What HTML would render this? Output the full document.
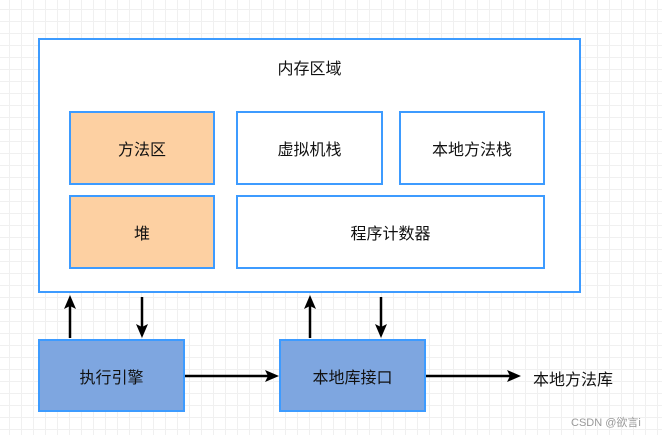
<!DOCTYPE html>
<html><head><meta charset="utf-8"><style>
body{margin:0;width:662px;height:435px;overflow:hidden;background:#fff;
background-image:linear-gradient(#f0f0f0 1px,transparent 1px),linear-gradient(90deg,#f0f0f0 1px,transparent 1px);
background-size:12px 12px;background-position:9px 9px;font-family:"Liberation Sans","Noto Sans CJK SC",sans-serif;}
.b{position:absolute;box-sizing:border-box;border:2px solid #3d9bff;display:flex;align-items:center;justify-content:center;font-size:16px;color:#111;}
.w{background:#fff}.o{background:#fdd0a2}.bl{background:#7ea6e0}
</style></head><body>
<div class="b w" style="left:38px;top:38px;width:543px;height:255px;align-items:flex-start;padding-top:15px">内存区域</div>
<div class="b o" style="left:69px;top:111px;width:146px;height:74px">方法区</div>
<div class="b w" style="left:236px;top:111px;width:147px;height:74px">虚拟机栈</div>
<div class="b w" style="left:399px;top:111px;width:146px;height:74px">本地方法栈</div>
<div class="b o" style="left:69px;top:195px;width:146px;height:74px">堆</div>
<div class="b w" style="left:236px;top:195px;width:309px;height:74px">程序计数器</div>
<div class="b bl" style="left:38px;top:339px;width:147px;height:73px">执行引擎</div>
<div class="b bl" style="left:279px;top:339px;width:147px;height:73px">本地库接口</div>
<div style="position:absolute;left:533px;top:366px;font-size:16px;color:#111">本地方法库</div>
<div style="position:absolute;left:571px;top:414px;font-size:11px;color:#999">CSDN @欲言i</div>
<svg width="662" height="435" style="position:absolute;left:0;top:0">
<g stroke="#000" stroke-width="2.5" fill="none">
<line x1="70" y1="338" x2="70" y2="305"/><line x1="142" y1="297" x2="142" y2="328"/>
<line x1="310" y1="338" x2="310" y2="305"/><line x1="381" y1="297" x2="381" y2="328"/>
<line x1="185" y1="376" x2="268" y2="376"/><line x1="426" y1="376" x2="510" y2="376"/>
</g>
<g fill="#000">
<polygon points="70,295 64,309 70,306 76,309"/><polygon points="142,338 136,324 142,327 148,324"/>
<polygon points="310,295 304,309 310,306 316,309"/><polygon points="381,338 375,324 381,327 387,324"/>
<polygon points="279,376 265,370 268,376 265,382"/><polygon points="521,376 507,370 510,376 507,382"/>
</g></svg>
</body></html>
